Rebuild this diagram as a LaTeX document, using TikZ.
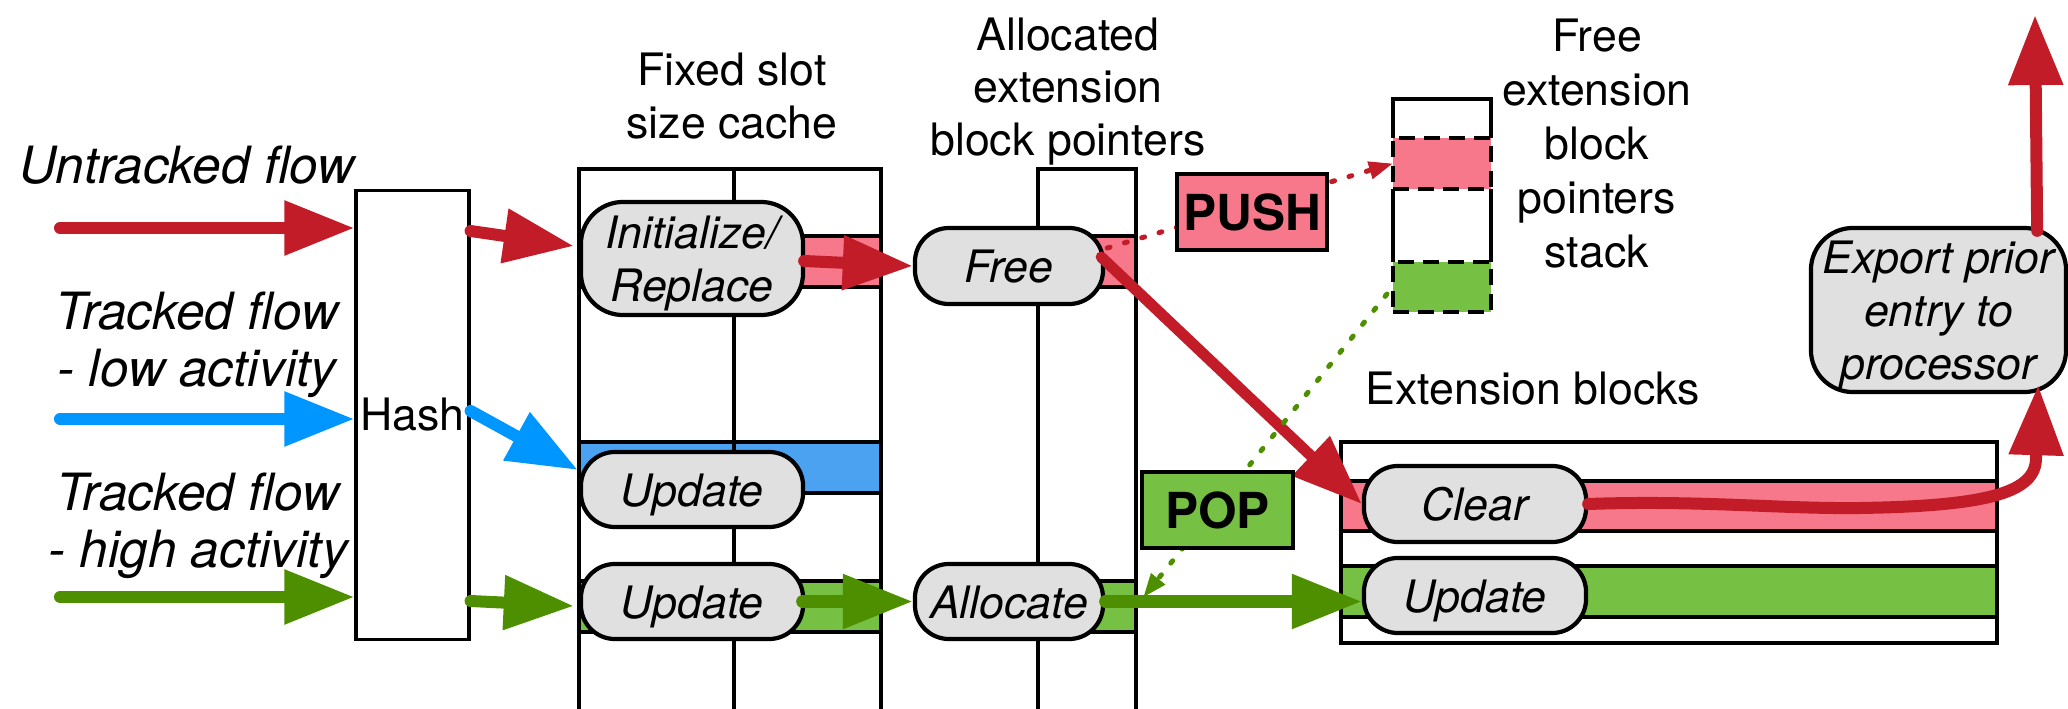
\documentclass[tikz,border=0pt]{standalone}
\usepackage{fontspec}
\setmainfont{TeX Gyre Heros}
\usetikzlibrary{arrows.meta,calc}

\definecolor{flowred}{RGB}{193,28,39}
\definecolor{flowblue}{RGB}{0,150,255}
\definecolor{flowgreen}{RGB}{78,143,0}
\definecolor{slotpink}{RGB}{247,120,138}
\definecolor{slotblue}{RGB}{74,162,240}
\definecolor{slotgreen}{RGB}{118,192,67}
\definecolor{opgray}{RGB}{224,224,224}

% strut that gives every operation label the same line box
\newcommand{\nodestrut}{\rule[-0.21em]{0pt}{1.17em}}
\newcommand{\mainsize}{\fontsize{12.7pt}{15pt}\selectfont}
\newcommand{\flowsize}{\fontsize{14.6pt}{16.3pt}\selectfont}
\newcommand{\tagsize}{\fontsize{14.1pt}{17pt}\selectfont}

\begin{document}
\begin{tikzpicture}[x=0.01cm,y=-0.01cm,
  frame/.style={draw=black,line width=0.9pt},
  slot/.style={draw=black,line width=1pt},
  stackslot/.style={draw=black,line width=1.1pt,dash pattern=on 0.16cm off 0.09cm,
    inner sep=0,outer sep=0,minimum width=0.98cm},
  op/.style={draw=black,line width=1.2pt,fill=opgray,rounded corners=0.34cm,
    inner sep=0,align=center,font=\mainsize\itshape},
  flow/.style={line width=0.12cm,line cap=round,-{Triangle[length=0.7cm,width=0.52cm]}},
  hint/.style={line width=0.05cm,line cap=round,dash pattern=on 0.03cm off 0.15cm,
    -{Triangle[length=0.24cm,width=0.17cm]}},
  tag/.style={draw=black,line width=1.3pt,inner sep=0,minimum width=1.5cm,
    minimum height=0.76cm,font=\tagsize\bfseries},
  title/.style={align=center,inner sep=0,font=\mainsize},
  flowlabel/.style={align=center,inner sep=0,font=\flowsize\itshape},
]
\useasboundingbox (0,0) rectangle (2068,709);

% fixed slot size cache: slots, then the two columns
\draw[slot,fill=slotpink]  (579,236) rectangle (881,287);
\draw[slot,fill=slotblue]  (579,442) rectangle (881,493);
\draw[slot,fill=slotgreen] (579,581) rectangle (881,632);
\draw[frame] (579,709) -- (579,169) -- (881,169) -- (881,709);
\draw[frame] (734,169) -- (734,709);

% allocated extension block pointers
\draw[slot,fill=slotpink]  (1038,236) rectangle (1136,287);
\draw[slot,fill=slotgreen] (1038,581) rectangle (1136,632);
\draw[frame] (1038,709) -- (1038,169) -- (1136,169) -- (1136,709);

% free extension block pointers stack
\draw[frame] (1393,138) -- (1393,99) -- (1491,99) -- (1491,138);
\draw[frame] (1393,189) -- (1393,262);
\draw[frame] (1491,189) -- (1491,262);
\node[stackslot,fill=slotpink,minimum height=0.51cm]  (pushslot) at (1442,163.5) {};
\node[stackslot,fill=slotgreen,minimum height=0.50cm] (popslot)  at (1442,287) {};

% extension blocks
\draw[frame,line width=1pt] (1341,442) rectangle (1997,643);
\draw[slot,fill=slotpink]  (1341,481) rectangle (1997,531);
\draw[slot,fill=slotgreen] (1341,566) rectangle (1997,617);

% hash unit
\node[draw,line width=0.9pt,inner sep=0,minimum width=1.13cm,minimum height=4.48cm,
  font=\mainsize] (hash) at (412.5,415) {Hash};

% operations
\node[op,minimum width=2.22cm,minimum height=1.13cm,rounded corners=0.42cm] (init)
  at (692,258.5) {\nodestrut Initialize/\\Replace};
\node[op,minimum width=2.22cm,minimum height=0.75cm] (updlow)  at (692,489.5) {\nodestrut Update};
\node[op,minimum width=2.22cm,minimum height=0.75cm] (updhigh) at (692,601.5) {\nodestrut Update};
\node[op,minimum width=1.88cm,minimum height=0.76cm] (free)    at (1009,266) {\nodestrut Free};
\node[op,minimum width=1.88cm,minimum height=0.75cm] (alloc)   at (1009,601.5) {\nodestrut Allocate};
\node[op,minimum width=2.22cm,minimum height=0.76cm] (clear)   at (1475,504) {\nodestrut Clear};
\node[op,minimum width=2.22cm,minimum height=0.75cm] (updext)  at (1475,595.5) {\nodestrut Update};
\node[op,minimum width=2.55cm,minimum height=1.64cm,rounded corners=0.42cm] (export)
  at (1938.5,310) {\nodestrut Export prior\\entry to\\processor};

% incoming flows
\coordinate (srcU) at (60,228);
\coordinate (srcL) at (60,419);
\coordinate (srcH) at (60,597);
\draw[flow,flowred]   (srcU) -- (srcU -| hash.west);
\draw[flow,flowblue]  (srcL) -- (srcL -| hash.west);
\draw[flow,flowgreen] (srcH) -- (srcH -| hash.west);

% hash to cache
\draw[flow,flowred]   ($(hash.east |- srcU)+(0,3)$)  -- ($(init.west)+(-5,-12.5)$);
\draw[flow,flowblue]  ($(hash.east |- srcL)+(0,-8)$) -- ($(updlow.west)+(-1,-19.5)$);
\draw[flow,flowgreen] ($(hash.east |- srcH)+(0,4)$)  -- ($(updhigh.west)+(-5,4.5)$);

% cache to pointers to extension blocks
\draw[flow,flowred]   ($(init.east)+(-1,2.5)$) -- (free.west);
\draw[flow,flowgreen] ($(updhigh.east)+(-3,0)$) -- (alloc.west);
\draw[flow,flowgreen] (alloc.east) -- (alloc.east -| updext.west);
\draw[flow,flowred,line width=0.11cm] ($(free.east)+(-4,-9)$) -- (clear.west);

% export of the prior entry
\coordinate (exin) at ($(export.south east)+(-30,-9)$);
\coordinate (outtop) at (2035,15);
\draw[flow,flowred] (clear.east) .. controls (1700,500) and (1780,509) .. (1860,508)
  .. controls (1990,506) and (2036,492) .. (2036,458) -- (exin);
\draw[flow,flowred] ($(export.north east)+(-31,5)$) -- (outtop);

% stack operations
\coordinate (popend) at ($(alloc.east)+(38,-4)$);
\draw[hint,flowred]   ($(free.east)+(2,-18)$) -- (pushslot.west);
\draw[hint,flowgreen] ($(popslot.west)+(-6,7)$) -- (popend);
\node[tag,fill=slotpink]  (push) at (1252,212) {PUSH};
\node[tag,fill=slotgreen,minimum width=1.51cm] (pop) at (1217.5,510) {POP};

% labels
\node[flowlabel,anchor=base] (lblU) at (187,183) {Untracked flow};
\node[flowlabel] (lblL) at (197,345) {Tracked flow\\- low activity};
\node[flowlabel] (lblH) at (198,525.7) {Tracked flow\\- high activity};
\node[title] (hdcache) at (732,95.7) {Fixed slot\\size cache};
\node[title] (hdptr) at (1068,91.4) {Allocated\\extension\\block pointers};
\node[title,font=\fontsize{12.7pt}{15.3pt}\selectfont] (hdstack) at (1597,143.5)
  {Free\\extension\\block\\pointers\\stack};
\node[title,anchor=base] (hdext) at (1533,404) {Extension blocks};
\end{tikzpicture}
\end{document}
